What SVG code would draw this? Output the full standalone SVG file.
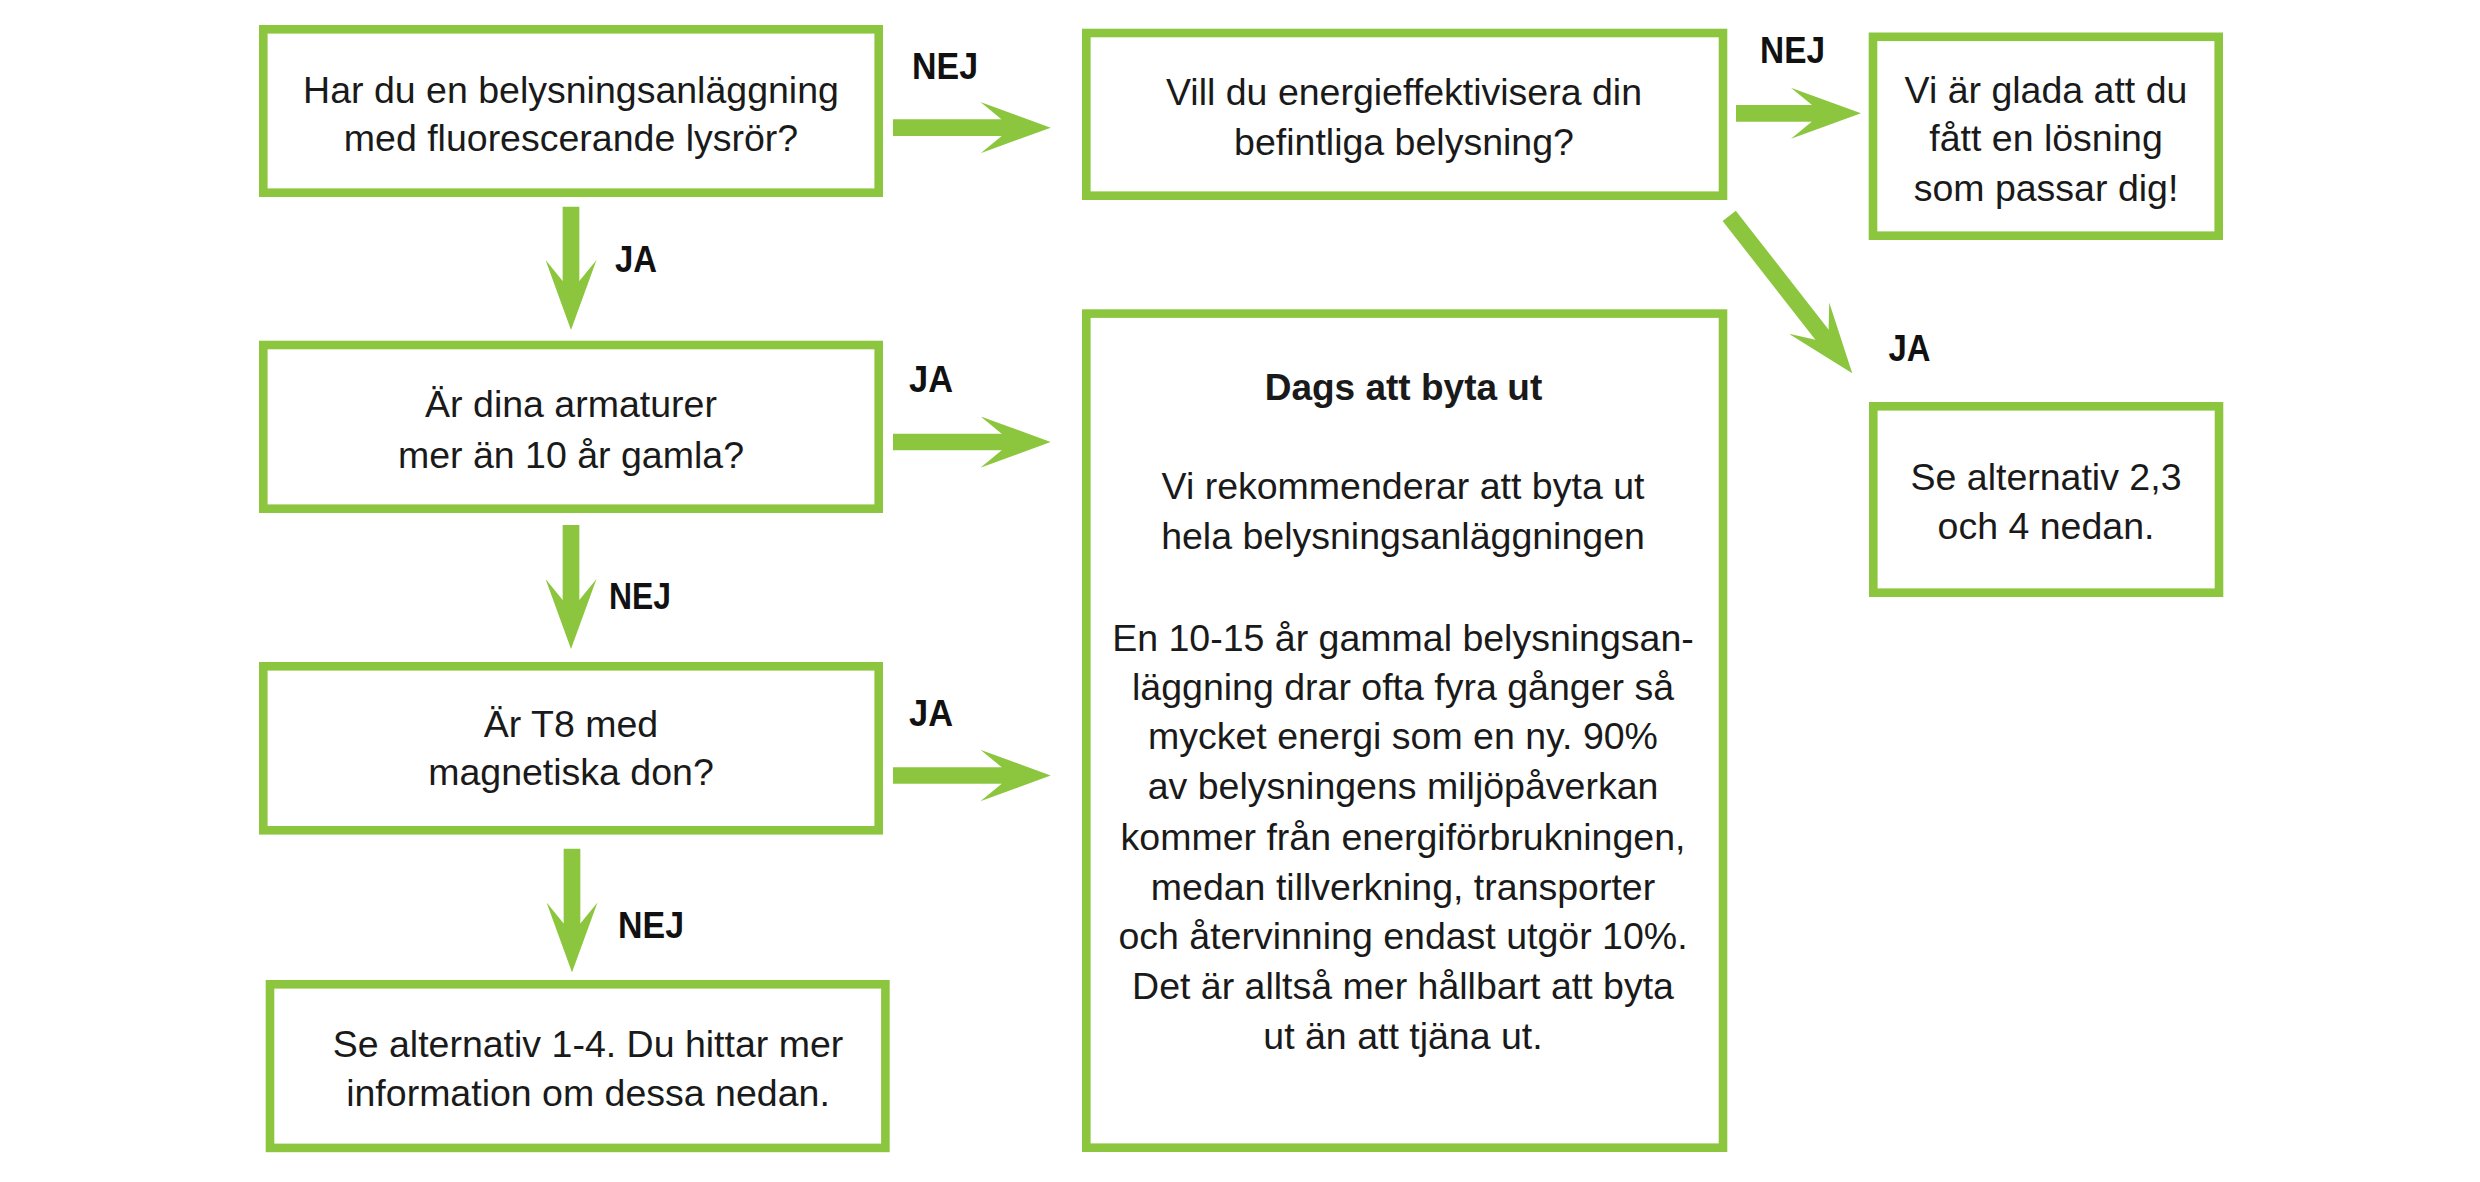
<svg xmlns="http://www.w3.org/2000/svg" width="2480" height="1182" viewBox="0 0 2480 1182">
<style>
.box{fill:#ffffff;stroke:#8cc63f;stroke-width:8.6}
.conn{stroke:#8cc63f;stroke-width:16.7;fill:none;marker-end:url(#ah)}
.t{font-family:"Liberation Sans",Arial,sans-serif;font-size:37.5px;fill:#1a1a1a;text-anchor:middle}
.tb{font-family:"Liberation Sans",Arial,sans-serif;font-size:37px;font-weight:bold;fill:#1a1a1a;text-anchor:middle}
.lbl{font-family:"Liberation Sans",Arial,sans-serif;font-size:37px;font-weight:bold;fill:#111111}
</style>
<defs>
<marker id="ah" viewBox="0 0 70 51" refX="23" refY="25.5" markerWidth="70" markerHeight="51" markerUnits="userSpaceOnUse" orient="auto">
<path d="M0,0 L70,25.5 L0,51 L21,33.8 L21,17.2 Z" fill="#8cc63f"/>
</marker>
</defs>
<rect width="2480" height="1182" fill="#ffffff"/>

<g id="connectors">
<line class="conn" x1="893" y1="127.7" x2="1003.7" y2="127.7"/>
<line class="conn" x1="893" y1="442" x2="1003.7" y2="442"/>
<line class="conn" x1="893" y1="775.5" x2="1003.7" y2="775.5"/>
<line class="conn" x1="1736" y1="113.3" x2="1814" y2="113.3"/>
<line class="conn" x1="571" y1="206.7" x2="571" y2="283"/>
<line class="conn" x1="571" y1="525" x2="571" y2="602"/>
<line class="conn" x1="572" y1="848.7" x2="572" y2="925.4"/>
<line class="conn" x1="1729.2" y1="215.9" x2="1823.3" y2="336.3"/>
<text class="lbl" x="912" y="78.5" textLength="66" lengthAdjust="spacingAndGlyphs">NEJ</text>
<text class="lbl" x="615" y="271.7" textLength="42" lengthAdjust="spacingAndGlyphs">JA</text>
<text class="lbl" x="909" y="392" textLength="44" lengthAdjust="spacingAndGlyphs">JA</text>
<text class="lbl" x="609" y="609.3" textLength="62" lengthAdjust="spacingAndGlyphs">NEJ</text>
<text class="lbl" x="909" y="725.5" textLength="44" lengthAdjust="spacingAndGlyphs">JA</text>
<text class="lbl" x="618" y="938" textLength="66" lengthAdjust="spacingAndGlyphs">NEJ</text>
<text class="lbl" x="1760" y="63" textLength="65" lengthAdjust="spacingAndGlyphs">NEJ</text>
<text class="lbl" x="1888.5" y="360.5" textLength="42" lengthAdjust="spacingAndGlyphs">JA</text>
</g>

<g id="node-fluorescerande">
<rect class="box" x="263.3" y="29.3" width="615.4" height="163.4"/>
<text class="t" x="571" y="102.6">Har du en belysningsanläggning</text>
<text class="t" x="571" y="151.2">med fluorescerande lysrör?</text>
</g>

<g id="node-armaturer">
<rect class="box" x="263.3" y="345" width="615.4" height="163.7"/>
<text class="t" x="571" y="417">Är dina armaturer</text>
<text class="t" x="571" y="467.7">mer än 10 år gamla?</text>
</g>

<g id="node-t8">
<rect class="box" x="263.3" y="666.3" width="615.4" height="164"/>
<text class="t" x="571" y="737">Är T8 med</text>
<text class="t" x="571" y="784.8">magnetiska don?</text>
</g>

<g id="node-alternativ-1-4">
<rect class="box" x="270" y="984.3" width="615.4" height="163.6"/>
<text class="t" x="588" y="1056.6">Se alternativ 1-4. Du hittar mer</text>
<text class="t" x="588" y="1105.5">information om dessa nedan.</text>
</g>

<g id="node-energieffektivisera">
<rect class="box" x="1086.3" y="33" width="636.7" height="162.7"/>
<text class="t" x="1404" y="105">Vill du energieffektivisera din</text>
<text class="t" x="1404" y="155">befintliga belysning?</text>
</g>

<g id="node-glada">
<rect class="box" x="1873" y="36.8" width="345.7" height="198.9"/>
<text class="t" x="2046" y="102.6">Vi är glada att du</text>
<text class="t" x="2046" y="151.2">fått en lösning</text>
<text class="t" x="2046" y="201">som passar dig!</text>
</g>

<g id="node-alternativ-2-4">
<rect class="box" x="1873.3" y="406.3" width="345.7" height="186.4"/>
<text class="t" x="2046" y="490">Se alternativ 2,3</text>
<text class="t" x="2046" y="539">och 4 nedan.</text>
</g>

<g id="node-dags">
<rect class="box" x="1086.3" y="313.6" width="636.7" height="834.1"/>
<text class="tb" x="1403.5" y="400">Dags att byta ut</text>
<text class="t" x="1403" y="499.4">Vi rekommenderar att byta ut</text>
<text class="t" x="1403" y="549">hela belysningsanläggningen</text>
<text class="t" x="1403" y="651">En 10-15 år gammal belysningsan-</text>
<text class="t" x="1403" y="699.5">läggning drar ofta fyra gånger så</text>
<text class="t" x="1403" y="749">mycket energi som en ny. 90%</text>
<text class="t" x="1403" y="799.4">av belysningens miljöpåverkan</text>
<text class="t" x="1403" y="850">kommer från energiförbrukningen,</text>
<text class="t" x="1403" y="899.6">medan tillverkning, transporter</text>
<text class="t" x="1403" y="949.4">och återvinning endast utgör 10%.</text>
<text class="t" x="1403" y="999">Det är alltså mer hållbart att byta</text>
<text class="t" x="1403" y="1049">ut än att tjäna ut.</text>
</g>
</svg>
